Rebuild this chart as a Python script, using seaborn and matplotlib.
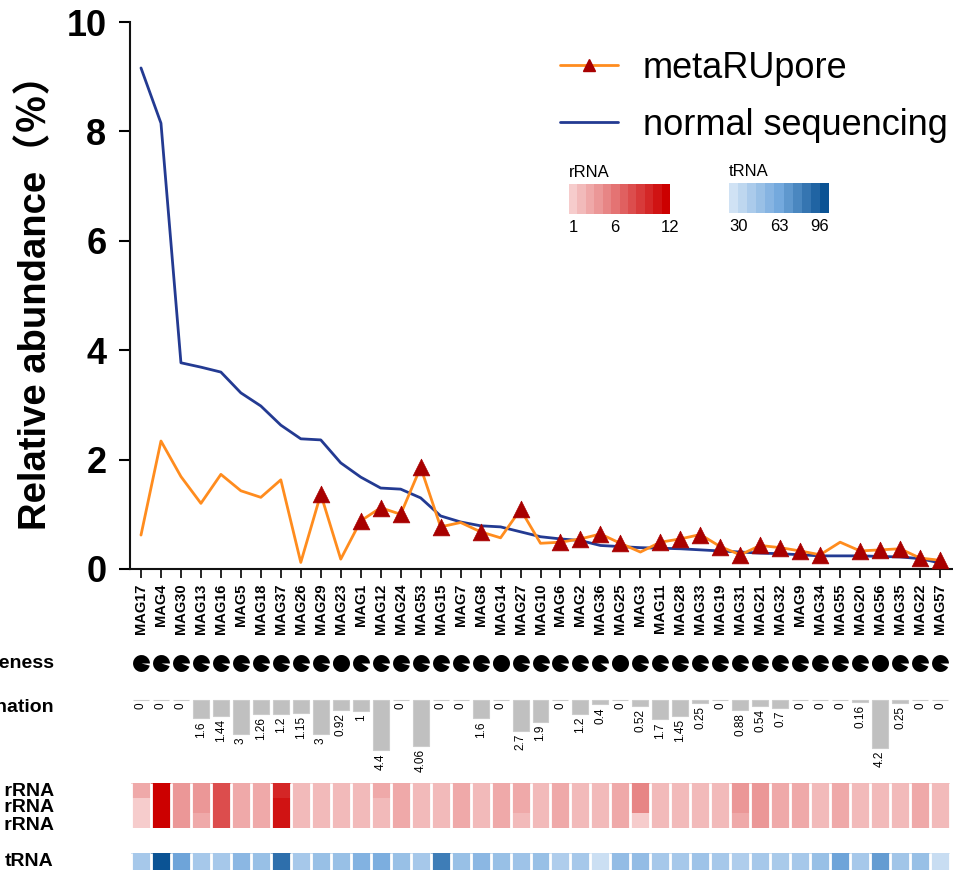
import numpy as np
import pandas as pd
import matplotlib.pyplot as plt
import seaborn as sns
from matplotlib.path import Path
from matplotlib.lines import Line2D
from matplotlib.colors import LinearSegmentedColormap, Normalize
from matplotlib.cm import ScalarMappable

# ==============================
# Settings
# ==============================
sns.set_theme(style="ticks")
plt.rcParams["font.family"] = ["Liberation Sans", "Noto Sans CJK SC", "DejaVu Sans"]
plt.rcParams.update({"text.color": "black", "axes.labelcolor": "black",
                     "xtick.color": "black", "ytick.color": "black"})

ORANGE = "#ff8c1e"
BLUE = "#233a92"
RED = "#a80000"
GREY = "#c0c0c0"

# ==============================
# Data
# ==============================
mags = ["MAG17", "MAG4", "MAG30", "MAG13", "MAG16", "MAG5", "MAG18", "MAG37", "MAG26",
        "MAG29", "MAG23", "MAG1", "MAG12", "MAG24", "MAG53", "MAG15", "MAG7", "MAG8",
        "MAG14", "MAG27", "MAG10", "MAG6", "MAG2", "MAG36", "MAG25", "MAG3", "MAG11",
        "MAG28", "MAG33", "MAG19", "MAG31", "MAG21", "MAG32", "MAG9", "MAG34", "MAG55",
        "MAG20", "MAG56", "MAG35", "MAG22", "MAG57"]

normal_seq = [9.16, 8.15, 3.77, 3.69, 3.60, 3.22, 2.98, 2.63, 2.38, 2.36, 1.94, 1.68,
              1.48, 1.46, 1.30, 0.97, 0.86, 0.79, 0.77, 0.68, 0.59, 0.55, 0.52, 0.43,
              0.41, 0.39, 0.38, 0.37, 0.35, 0.33, 0.31, 0.29, 0.28, 0.26, 0.24, 0.24,
              0.24, 0.23, 0.22, 0.19, 0.11]

metarupore = [0.62, 2.34, 1.69, 1.20, 1.73, 1.43, 1.31, 1.63, 0.12, 1.37, 0.18, 0.88,
              1.12, 1.00, 1.86, 0.77, 0.85, 0.68, 0.57, 1.09, 0.47, 0.49, 0.55, 0.64,
              0.47, 0.31, 0.49, 0.55, 0.63, 0.41, 0.26, 0.43, 0.39, 0.33, 0.26, 0.49,
              0.33, 0.35, 0.37, 0.20, 0.16]

# MAGs flagged with a triangle on the metaRUpore line
marked = ["MAG29", "MAG1", "MAG12", "MAG24", "MAG53", "MAG15", "MAG8", "MAG27", "MAG6",
          "MAG2", "MAG36", "MAG25", "MAG11", "MAG28", "MAG33", "MAG19", "MAG31", "MAG21",
          "MAG32", "MAG9", "MAG34", "MAG20", "MAG56", "MAG35", "MAG22", "MAG57"]

completeness = [96, 95, 94, 94, 94, 95, 94, 95, 94, 95, 100, 91, 94, 96, 95, 94, 94,
                95, 100, 95, 94, 94, 94, 91, 100, 94, 94, 95, 94, 94, 94, 95, 94, 94,
                95, 94, 94, 100, 93, 94, 93]

contamination = [0, 0, 0, 1.6, 1.44, 3, 1.26, 1.2, 1.15, 3, 0.92, 1, 4.4, 0, 4.06, 0, 0,
                 1.6, 0, 2.7, 1.9, 0, 1.2, 0.4, 0, 0.52, 1.7, 1.45, 0.25, 0, 0.88, 0.54,
                 0.7, 0, 0, 0, 0.16, 4.2, 0.25, 0, 0]

rrna_5s = [3, 12, 4, 4, 8, 3, 3, 10, 2, 2, 2, 2, 3, 3, 2, 2, 3, 2, 3, 3, 2, 3, 2, 2, 3,
           5, 2, 2, 2, 2, 4, 4, 3, 3, 2, 3, 2, 2, 2, 3, 2]
rrna_16s = [1, 12, 4, 4, 8, 3, 3, 11, 2, 2, 2, 2, 2, 3, 2, 2, 3, 2, 3, 3, 2, 3, 2, 2, 3,
            5, 2, 2, 2, 2, 4, 4, 3, 3, 2, 3, 2, 2, 2, 3, 2]
rrna_23s = [1, 12, 4, 3, 8, 3, 3, 11, 2, 2, 2, 2, 2, 3, 2, 2, 3, 2, 3, 2, 2, 3, 2, 2, 3,
            1, 2, 2, 2, 2, 3, 4, 3, 3, 2, 3, 2, 2, 2, 3, 2]

trna = [45, 96, 65, 45, 45, 55, 50, 85, 45, 50, 50, 58, 60, 50, 45, 80, 50, 55, 50, 48,
        50, 42, 45, 32, 52, 52, 45, 45, 48, 45, 42, 45, 44, 45, 50, 65, 45, 68, 47, 50, 33]

rrna_ticks = [1, 6, 12]
trna_ticks = [30, 63, 96]

# ==============================
# Layout helpers (pixel boxes)
# ==============================
W, H = 954, 874
fig = plt.figure(figsize=(W / 100, H / 100), dpi=100)


def box(x0, y0, x1, y1):
    return [x0 / W, 1 - y1 / H, (x1 - x0) / W, (y1 - y0) / H]


pos = np.arange(len(mags))
XLIM = (-0.55, 40.6)

rrna_cmap = LinearSegmentedColormap.from_list("rrna", ["#f6cccc", "#e26a6a", "#cc0000"])
trna_cmap = LinearSegmentedColormap.from_list("trna", ["#d0e2f4", "#74a9dd", "#0b5394"])

# ==============================
# 1. Relative abundance lines
# ==============================
ax = fig.add_axes(box(130, 22, 952, 569))
sns.lineplot(x=pos, y=normal_seq, color=BLUE, linewidth=2, ax=ax, zorder=2)
sns.lineplot(x=pos, y=metarupore, color=ORANGE, linewidth=2, ax=ax, zorder=3)
idx = [mags.index(m) for m in marked]
sns.scatterplot(x=pos[idx], y=np.array(metarupore)[idx], marker="^", s=145, color=RED,
                edgecolor=RED, linewidth=0.5, ax=ax, zorder=4, clip_on=False)

ax.set_xlim(*XLIM)
ax.set_ylim(0, 10)
ax.set_yticks([0, 2, 4, 6, 8, 10])
ax.set_xticks(pos)
ax.set_xticklabels(mags, rotation=90, fontsize=10.5, fontweight="bold")
for lab in ax.get_yticklabels():
    lab.set_fontweight("bold")
ax.tick_params(axis="y", length=8, width=1.5, pad=9, labelsize=26)
ax.tick_params(axis="x", length=6.5, width=1.2, pad=4)
ax.set_ylabel("Relative abundance（％）", fontsize=27.5, fontweight="bold", labelpad=9)
ax.yaxis.label.set_y(0.505)
ax.set_xlabel("")
for side in ["top", "right"]:
    ax.spines[side].set_visible(False)
for side in ["left", "bottom"]:
    ax.spines[side].set_linewidth(1.5)
    ax.spines[side].set_color("#111111")

handles = [Line2D([], [], color=ORANGE, lw=2, marker="^", markersize=11.5,
                  markerfacecolor=RED, markeredgecolor=RED),
           Line2D([], [], color=BLUE, lw=2)]
ax.legend(handles, ["metaRUpore", "normal sequencing"], loc="upper left",
          bbox_to_anchor=(560 / W, 1 - 51 / H), bbox_transform=fig.transFigure,
          frameon=False, fontsize=26, handlelength=1.6, handletextpad=0.7,
          labelspacing=0.6, borderpad=0, borderaxespad=0, markerscale=0.75)

# ==============================
# 2. Completeness pies
# ==============================
ax_c = fig.add_axes(box(130, 650, 952, 676))
for i, c in enumerate(completeness):
    ax_c.scatter(i, 0, marker=Path.wedge(0, 360 * c / 100), s=150, color="black",
                 linewidths=0)
ax_c.set_xlim(*XLIM)
ax_c.set_ylim(-1, 1)
ax_c.axis("off")

# ==============================
# 3. Contamination bars (downwards)
# ==============================
ax_k = fig.add_axes(box(130, 697, 952, 790))
sns.barplot(x=mags, y=[-v for v in contamination], order=mags, color=GREY,
            edgecolor="#cccccc", linewidth=0.8, width=0.8, saturation=1, ax=ax_k)
for i, v in enumerate(contamination):
    ax_k.text(i, -v - 0.25, f"{v:g}", rotation=90, ha="center", va="top", fontsize=8.5)
ax_k.set_xlim(*XLIM)
ax_k.set_ylim(-93 / 11.8, 3 / 11.8)
ax_k.axis("off")

# ==============================
# 4. rRNA / tRNA heatmaps
# ==============================
rrna_df = pd.DataFrame([rrna_5s, rrna_16s, rrna_23s], columns=mags,
                       index=["5S rRNA", "16S rRNA", "23S rRNA"])
trna_df = pd.DataFrame([trna], columns=mags, index=["tRNA"])

ax_r = fig.add_axes(box(130, 783, 952, 828))
sns.heatmap(rrna_df, cmap=rrna_cmap, vmin=1, vmax=12, cbar=False, xticklabels=False,
            yticklabels=False, ax=ax_r)
ax_r.vlines(np.arange(len(mags) + 1), 0, 3, colors="white", lw=2)
ax_r.set_xlim(XLIM[0] + 0.5, XLIM[1] + 0.5)

ax_t = fig.add_axes(box(130, 853, 952, 870))
sns.heatmap(trna_df, cmap=trna_cmap, vmin=30, vmax=96, cbar=False, xticklabels=False,
            yticklabels=False, ax=ax_t)
ax_t.vlines(np.arange(len(mags) + 1), 0, 1, colors="white", lw=2)
ax_t.set_xlim(XLIM[0] + 0.5, XLIM[1] + 0.5)

# row labels (cut by the left border, as in the source figure)
row_labels = [("Completeness", 663), ("Contamination", 707), ("5S rRNA", 792),
              ("16S rRNA", 808), ("23S rRNA", 825), ("tRNA", 862)]
for text, y in row_labels:
    fig.text(54 / W, 1 - y / H, text, ha="right", va="center", fontsize=14,
             fontweight="bold")

# ==============================
# 5. Colour keys
# ==============================
cax_r = fig.add_axes(box(569, 184, 670, 214))
cb_r = fig.colorbar(ScalarMappable(Normalize(1, 12), rrna_cmap.resampled(12)), cax=cax_r,
                    orientation="horizontal")
cb_r.set_ticks(rrna_ticks)
cb_r.outline.set_visible(False)
cax_r.tick_params(length=0, labelsize=12, pad=4)
cax_r.get_xticklabels()[0].set_ha("left")
cax_r.set_title("rRNA", loc="left", fontsize=12, pad=5)

cax_t = fig.add_axes(box(729, 183, 829, 213))
cb_t = fig.colorbar(ScalarMappable(Normalize(30, 96), trna_cmap.resampled(11)), cax=cax_t,
                    orientation="horizontal")
cb_t.set_ticks(trna_ticks)
cb_t.outline.set_visible(False)
cax_t.tick_params(length=0, labelsize=12, pad=4)
cax_t.get_xticklabels()[0].set_ha("left")
cax_t.get_xticklabels()[-1].set_ha("right")
cax_t.set_title("tRNA", loc="left", fontsize=12, pad=5)

fig.savefig("out.png", dpi=100)
plt.close(fig)
